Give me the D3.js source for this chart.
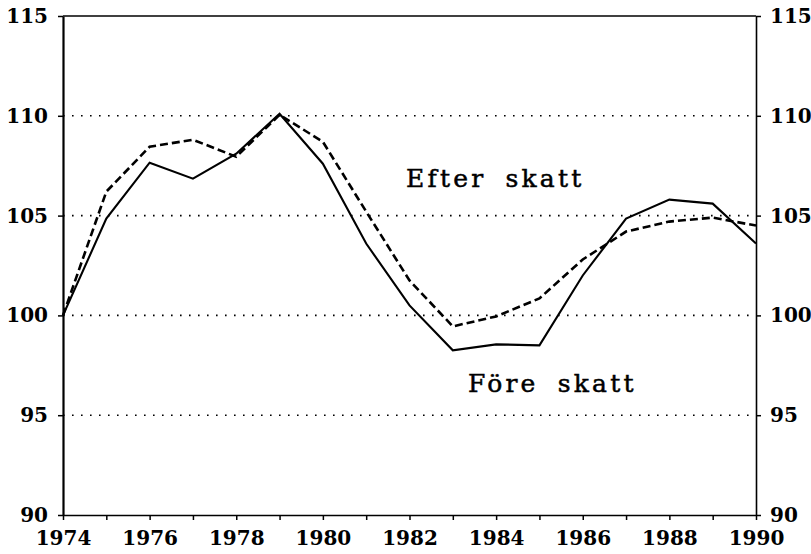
<!DOCTYPE html>
<html lang="sv">
<meta charset="UTF-8">
<title>Efter skatt / Före skatt</title>
<style>
body { margin: 0; background: #fff; }
.tick text { font-family: "DejaVu Serif", serif; font-weight: bold; }
</style>
<body>
<div id="my_dataviz"></div>
<script src="https://d3js.org/d3.v7.min.js"></script>
<script>
// data
var years = [1974, 1975, 1976, 1977, 1978, 1979, 1980, 1981, 1982, 1983, 1984, 1985, 1986, 1987, 1988, 1989, 1990];
var foreSkatt = [100.0, 104.85, 107.65, 106.85, 108.1, 110.1, 107.6, 103.6, 100.5, 98.25, 98.55, 98.5, 102.0, 104.85, 105.8, 105.6, 103.6];
var efterSkatt = [100.0, 106.2, 108.45, 108.8, 107.95, 110.05, 108.7, 105.2, 101.75, 99.45, 99.95, 100.85, 102.8, 104.2, 104.7, 104.9, 104.5];
var yTicks = [90, 95, 100, 105, 110, 115];
var gridValues = [95, 100, 105, 110];
var xLabelYears = [1974, 1976, 1978, 1980, 1982, 1984, 1986, 1988, 1990];
var labels = [{text: "Efter skatt", year: 1981.92, value: 106.43}, {text: "Före skatt", year: 1983.35, value: 96.16}];

var margin = {top: 16, right: 55, bottom: 39, left: 63},
    width = 811 - margin.left - margin.right,
    height = 554 - margin.top - margin.bottom;

var svg = d3.select("#my_dataviz")
  .append("svg")
    .attr("width", width + margin.left + margin.right)
    .attr("height", height + margin.top + margin.bottom)
  .append("g")
    .attr("transform", "translate(" + margin.left + "," + margin.top + ")");

var x = d3.scaleLinear().domain([1974, 1990]).range([0, width]);
var y = d3.scaleLinear().domain([90, 115]).range([height, 0]);

// dotted grid
svg.selectAll("grid")
  .data(gridValues)
  .enter()
  .append("line")
    .attr("x1", 0)
    .attr("x2", width)
    .attr("y1", function(d){ return y(d) })
    .attr("y2", function(d){ return y(d) })
    .style("stroke", "#000")
    .style("stroke-width", 1.6)
    .style("stroke-dasharray", "1.6,7.4");

// axes
var xAxis = svg.append("g")
  .attr("transform", "translate(0," + height + ")")
  .call(d3.axisBottom(x)
    .tickValues(d3.range(1974, 1991))
    .tickSize(5)
    .tickSizeOuter(0)
    .tickFormat(function(d){ return xLabelYears.indexOf(d) >= 0 ? d : "" }));
xAxis.selectAll("text").style("font-size", "20px").attr("dy", "1.1em");

var leftAxis = svg.append("g")
  .call(d3.axisLeft(y).tickValues(yTicks).tickSize(5).tickSizeOuter(0).tickPadding(10));
leftAxis.selectAll("text").style("font-size", "20px");

var rightAxis = svg.append("g")
  .attr("transform", "translate(" + width + ",0)")
  .call(d3.axisRight(y).tickValues(yTicks).tickSize(5).tickSizeOuter(0).tickPadding(9));
rightAxis.selectAll("text").style("font-size", "20px");

svg.selectAll(".domain").style("stroke", "#000").style("stroke-width", 1.6);
leftAxis.select(".domain").style("stroke-width", 2.2);
svg.selectAll(".tick line").style("stroke", "#000").style("stroke-width", 1.5);
svg.selectAll(".tick text").style("fill", "#000");

// top frame line
svg.append("line")
  .attr("x1", 0).attr("x2", width)
  .attr("y1", y(115)).attr("y2", y(115))
  .style("stroke", "#000").style("stroke-width", 1.6);

var line = d3.line()
  .x(function(d){ return x(d[0]) })
  .y(function(d){ return y(d[1]) });

svg.append("path")
  .datum(d3.zip(years, efterSkatt))
  .attr("d", line)
  .style("fill", "none")
  .style("stroke", "#000")
  .style("stroke-width", 2.6)
  .style("stroke-dasharray", "8,4");

svg.append("path")
  .datum(d3.zip(years, foreSkatt))
  .attr("d", line)
  .style("fill", "none")
  .style("stroke", "#000")
  .style("stroke-width", 2.1);

svg.selectAll("mylabels")
  .data(labels)
  .enter()
  .append("text")
    .attr("x", function(d){ return x(d.year) })
    .attr("y", function(d){ return y(d.value) })
    .text(function(d){ return d.text })
    .style("font-family", "DejaVu Serif, serif")
    .style("font-size", "25px")
    .style("letter-spacing", "3.2px")
    .style("word-spacing", "8px")
    .style("fill", "#000")
    .style("stroke", "#000")
    .style("stroke-width", 0.5);
</script>
</body>
</html>
